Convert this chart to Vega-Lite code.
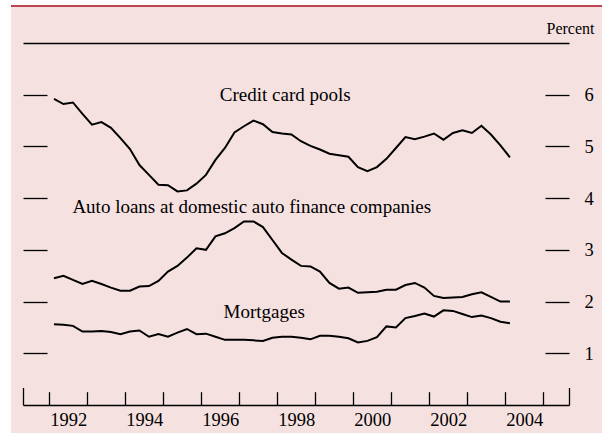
{
  "$schema": "https://vega.github.io/schema/vega-lite/v6.json",
  "width": 546,
  "height": 362,
  "autosize": {"type": "none"},
  "padding": {"left": 23, "top": 43, "right": 33, "bottom": 28},
  "background": "#ffffff",
  "config": {"view": {"stroke": null}, "font": "Liberation Serif", "axis": {"grid": false}},
  "datasets": {
    "series": [
      {"s":"cc","t":1992.125,"v":5.92},{"s":"cc","t":1992.375,"v":5.82},{"s":"cc","t":1992.625,"v":5.85},{"s":"cc","t":1992.875,"v":5.63},
      {"s":"cc","t":1993.125,"v":5.42},{"s":"cc","t":1993.375,"v":5.47},{"s":"cc","t":1993.625,"v":5.36},{"s":"cc","t":1993.875,"v":5.16},
      {"s":"cc","t":1994.125,"v":4.95},{"s":"cc","t":1994.375,"v":4.64},{"s":"cc","t":1994.625,"v":4.45},{"s":"cc","t":1994.875,"v":4.26},
      {"s":"cc","t":1995.125,"v":4.25},{"s":"cc","t":1995.375,"v":4.13},{"s":"cc","t":1995.625,"v":4.15},{"s":"cc","t":1995.875,"v":4.28},
      {"s":"cc","t":1996.125,"v":4.45},{"s":"cc","t":1996.375,"v":4.74},{"s":"cc","t":1996.625,"v":4.97},{"s":"cc","t":1996.875,"v":5.27},
      {"s":"cc","t":1997.125,"v":5.39},{"s":"cc","t":1997.375,"v":5.50},{"s":"cc","t":1997.625,"v":5.43},{"s":"cc","t":1997.875,"v":5.28},
      {"s":"cc","t":1998.125,"v":5.25},{"s":"cc","t":1998.375,"v":5.23},{"s":"cc","t":1998.625,"v":5.10},{"s":"cc","t":1998.875,"v":5.01},
      {"s":"cc","t":1999.125,"v":4.94},{"s":"cc","t":1999.375,"v":4.86},{"s":"cc","t":1999.625,"v":4.83},{"s":"cc","t":1999.875,"v":4.80},
      {"s":"cc","t":2000.125,"v":4.60},{"s":"cc","t":2000.375,"v":4.52},{"s":"cc","t":2000.625,"v":4.60},{"s":"cc","t":2000.875,"v":4.76},
      {"s":"cc","t":2001.125,"v":4.97},{"s":"cc","t":2001.375,"v":5.18},{"s":"cc","t":2001.625,"v":5.14},{"s":"cc","t":2001.875,"v":5.19},
      {"s":"cc","t":2002.125,"v":5.25},{"s":"cc","t":2002.375,"v":5.13},{"s":"cc","t":2002.625,"v":5.26},{"s":"cc","t":2002.875,"v":5.31},
      {"s":"cc","t":2003.125,"v":5.26},{"s":"cc","t":2003.375,"v":5.40},{"s":"cc","t":2003.625,"v":5.23},{"s":"cc","t":2003.875,"v":5.02},
      {"s":"cc","t":2004.125,"v":4.79},
      {"s":"auto","t":1992.125,"v":2.45},{"s":"auto","t":1992.375,"v":2.50},{"s":"auto","t":1992.625,"v":2.42},{"s":"auto","t":1992.875,"v":2.34},
      {"s":"auto","t":1993.125,"v":2.40},{"s":"auto","t":1993.375,"v":2.34},{"s":"auto","t":1993.625,"v":2.27},{"s":"auto","t":1993.875,"v":2.21},
      {"s":"auto","t":1994.125,"v":2.21},{"s":"auto","t":1994.375,"v":2.29},{"s":"auto","t":1994.625,"v":2.30},{"s":"auto","t":1994.875,"v":2.40},
      {"s":"auto","t":1995.125,"v":2.58},{"s":"auto","t":1995.375,"v":2.69},{"s":"auto","t":1995.625,"v":2.85},{"s":"auto","t":1995.875,"v":3.03},
      {"s":"auto","t":1996.125,"v":3.00},{"s":"auto","t":1996.375,"v":3.26},{"s":"auto","t":1996.625,"v":3.32},{"s":"auto","t":1996.875,"v":3.42},
      {"s":"auto","t":1997.125,"v":3.55},{"s":"auto","t":1997.375,"v":3.55},{"s":"auto","t":1997.625,"v":3.44},{"s":"auto","t":1997.875,"v":3.19},
      {"s":"auto","t":1998.125,"v":2.94},{"s":"auto","t":1998.375,"v":2.81},{"s":"auto","t":1998.625,"v":2.69},{"s":"auto","t":1998.875,"v":2.68},
      {"s":"auto","t":1999.125,"v":2.58},{"s":"auto","t":1999.375,"v":2.36},{"s":"auto","t":1999.625,"v":2.25},{"s":"auto","t":1999.875,"v":2.27},
      {"s":"auto","t":2000.125,"v":2.17},{"s":"auto","t":2000.375,"v":2.18},{"s":"auto","t":2000.625,"v":2.19},{"s":"auto","t":2000.875,"v":2.23},
      {"s":"auto","t":2001.125,"v":2.23},{"s":"auto","t":2001.375,"v":2.32},{"s":"auto","t":2001.625,"v":2.36},{"s":"auto","t":2001.875,"v":2.27},
      {"s":"auto","t":2002.125,"v":2.11},{"s":"auto","t":2002.375,"v":2.07},{"s":"auto","t":2002.625,"v":2.08},{"s":"auto","t":2002.875,"v":2.09},
      {"s":"auto","t":2003.125,"v":2.14},{"s":"auto","t":2003.375,"v":2.18},{"s":"auto","t":2003.625,"v":2.09},{"s":"auto","t":2003.875,"v":2.00},
      {"s":"auto","t":2004.125,"v":2.00},
      {"s":"mort","t":1992.125,"v":1.56},{"s":"mort","t":1992.375,"v":1.55},{"s":"mort","t":1992.625,"v":1.53},{"s":"mort","t":1992.875,"v":1.42},
      {"s":"mort","t":1993.125,"v":1.42},{"s":"mort","t":1993.375,"v":1.43},{"s":"mort","t":1993.625,"v":1.41},{"s":"mort","t":1993.875,"v":1.37},
      {"s":"mort","t":1994.125,"v":1.42},{"s":"mort","t":1994.375,"v":1.44},{"s":"mort","t":1994.625,"v":1.32},{"s":"mort","t":1994.875,"v":1.37},
      {"s":"mort","t":1995.125,"v":1.32},{"s":"mort","t":1995.375,"v":1.40},{"s":"mort","t":1995.625,"v":1.47},{"s":"mort","t":1995.875,"v":1.37},
      {"s":"mort","t":1996.125,"v":1.38},{"s":"mort","t":1996.375,"v":1.32},{"s":"mort","t":1996.625,"v":1.26},{"s":"mort","t":1996.875,"v":1.26},
      {"s":"mort","t":1997.125,"v":1.26},{"s":"mort","t":1997.375,"v":1.25},{"s":"mort","t":1997.625,"v":1.24},{"s":"mort","t":1997.875,"v":1.30},
      {"s":"mort","t":1998.125,"v":1.32},{"s":"mort","t":1998.375,"v":1.32},{"s":"mort","t":1998.625,"v":1.30},{"s":"mort","t":1998.875,"v":1.27},
      {"s":"mort","t":1999.125,"v":1.34},{"s":"mort","t":1999.375,"v":1.34},{"s":"mort","t":1999.625,"v":1.32},{"s":"mort","t":1999.875,"v":1.29},
      {"s":"mort","t":2000.125,"v":1.21},{"s":"mort","t":2000.375,"v":1.24},{"s":"mort","t":2000.625,"v":1.31},{"s":"mort","t":2000.875,"v":1.52},
      {"s":"mort","t":2001.125,"v":1.50},{"s":"mort","t":2001.375,"v":1.68},{"s":"mort","t":2001.625,"v":1.72},{"s":"mort","t":2001.875,"v":1.77},
      {"s":"mort","t":2002.125,"v":1.71},{"s":"mort","t":2002.375,"v":1.83},{"s":"mort","t":2002.625,"v":1.82},{"s":"mort","t":2002.875,"v":1.76},
      {"s":"mort","t":2003.125,"v":1.70},{"s":"mort","t":2003.375,"v":1.73},{"s":"mort","t":2003.625,"v":1.68},{"s":"mort","t":2003.875,"v":1.61},
      {"s":"mort","t":2004.125,"v":1.58}
    ],
    "labels": [
      {"label":"Credit card pools","t":1996.49,"v":5.87},
      {"label":"Auto loans at domestic auto finance companies","t":1992.61,"v":3.71},
      {"label":"Mortgages","t":1996.59,"v":1.69}
    ]
  },
  "layer": [
    {
      "data": {"values": [{}]},
      "mark": {"type": "rect", "color": "#f6e1e1", "clip": false},
      "encoding": {
        "x": {"datum": 1990.994, "type": "quantitative", "scale": {"domain": [1991.31, 2005.68], "nice": false, "zero": false}, "axis": null},
        "x2": {"datum": 2008},
        "y": {"datum": 7.7, "type": "quantitative", "scale": {"domain": [0, 7], "nice": false, "zero": false}, "axis": null},
        "y2": {"datum": -1}
      }
    },
    {
      "data": {"values": [{}]},
      "mark": {"type": "rule", "color": "#c0444f", "strokeWidth": 2, "clip": false},
      "encoding": {
        "x": {
          "datum": 1990.994, "type": "quantitative",
          "axis": {
            "orient": "bottom", "title": null, "zindex": 2, "values": [1991.31, 2005.68],
            "tickSize": -17.5, "tickColor": "#000000", "tickWidth": 1.3,
            "labels": false, "domain": false
          }
        },
        "x2": {"datum": 2008},
        "y": {"datum": 7.716, "type": "quantitative", "axis": null}
      }
    },
    {
      "data": {"name": "series"},
      "mark": {"type": "line", "color": "#000000", "strokeWidth": 2, "strokeJoin": "miter"},
      "encoding": {
        "x": {
          "field": "t", "type": "quantitative",
          "axis": {
            "orient": "bottom", "title": null, "format": "d", "zindex": 2,
            "values": [1992, 1993, 1994, 1995, 1996, 1997, 1998, 1999, 2000, 2001, 2002, 2003, 2004, 2005],
            "tickSize": -13.3,
            "tickColor": "#000000", "tickWidth": 1.3,
            "domainColor": "#000000", "domainWidth": 1.3,
            "labelExpr": "(datum.value % 2 == 0 && datum.value <= 2004) ? datum.label : ''",
            "labelOffset": 19, "labelFontSize": 18.5, "labelColor": "#000000", "labelFont": "Liberation Serif",
            "labelBaseline": "alphabetic", "labelPadding": 33.3,
            "labelFlush": false, "labelOverlap": false, "labelBound": false
          }
        },
        "y": {
          "field": "v", "type": "quantitative",
          "axis": {
            "orient": "left", "title": null, "values": [1, 2, 3, 4, 5, 6], "zindex": 2,
            "tickSize": -24, "tickColor": "#000000", "tickWidth": 1.3,
            "labels": false, "domain": false
          }
        },
        "detail": {"field": "s"}
      }
    },
    {
      "data": {"name": "labels"},
      "mark": {"type": "text", "align": "left", "baseline": "alphabetic", "fontSize": 19, "font": "Liberation Serif", "color": "#000000"},
      "encoding": {
        "x": {
          "field": "t", "type": "quantitative",
          "axis": {"orient": "top", "title": null, "ticks": false, "labels": false, "domain": true, "domainColor": "#000000", "domainWidth": 1.3, "zindex": 2}
        },
        "y": {
          "field": "v", "type": "quantitative",
          "axis": {
            "orient": "right", "values": [1, 2, 3, 4, 5, 6], "zindex": 2,
            "tickSize": -24, "tickColor": "#000000", "tickWidth": 1.3, "domain": false,
            "labelPadding": 39, "labelFontSize": 18.5, "labelColor": "#000000", "labelFont": "Liberation Serif",
            "title": "Percent", "titleAngle": 0, "titleX": 25, "titleY": -10, "titleAlign": "right", "titleBaseline": "alphabetic",
            "titleFontSize": 16, "titleFontWeight": "normal", "titleFont": "Liberation Serif", "titleColor": "#000000"
          }
        },
        "text": {"field": "label"}
      }
    }
  ],
  "resolve": {"axis": {"x": "independent", "y": "independent"}}
}
